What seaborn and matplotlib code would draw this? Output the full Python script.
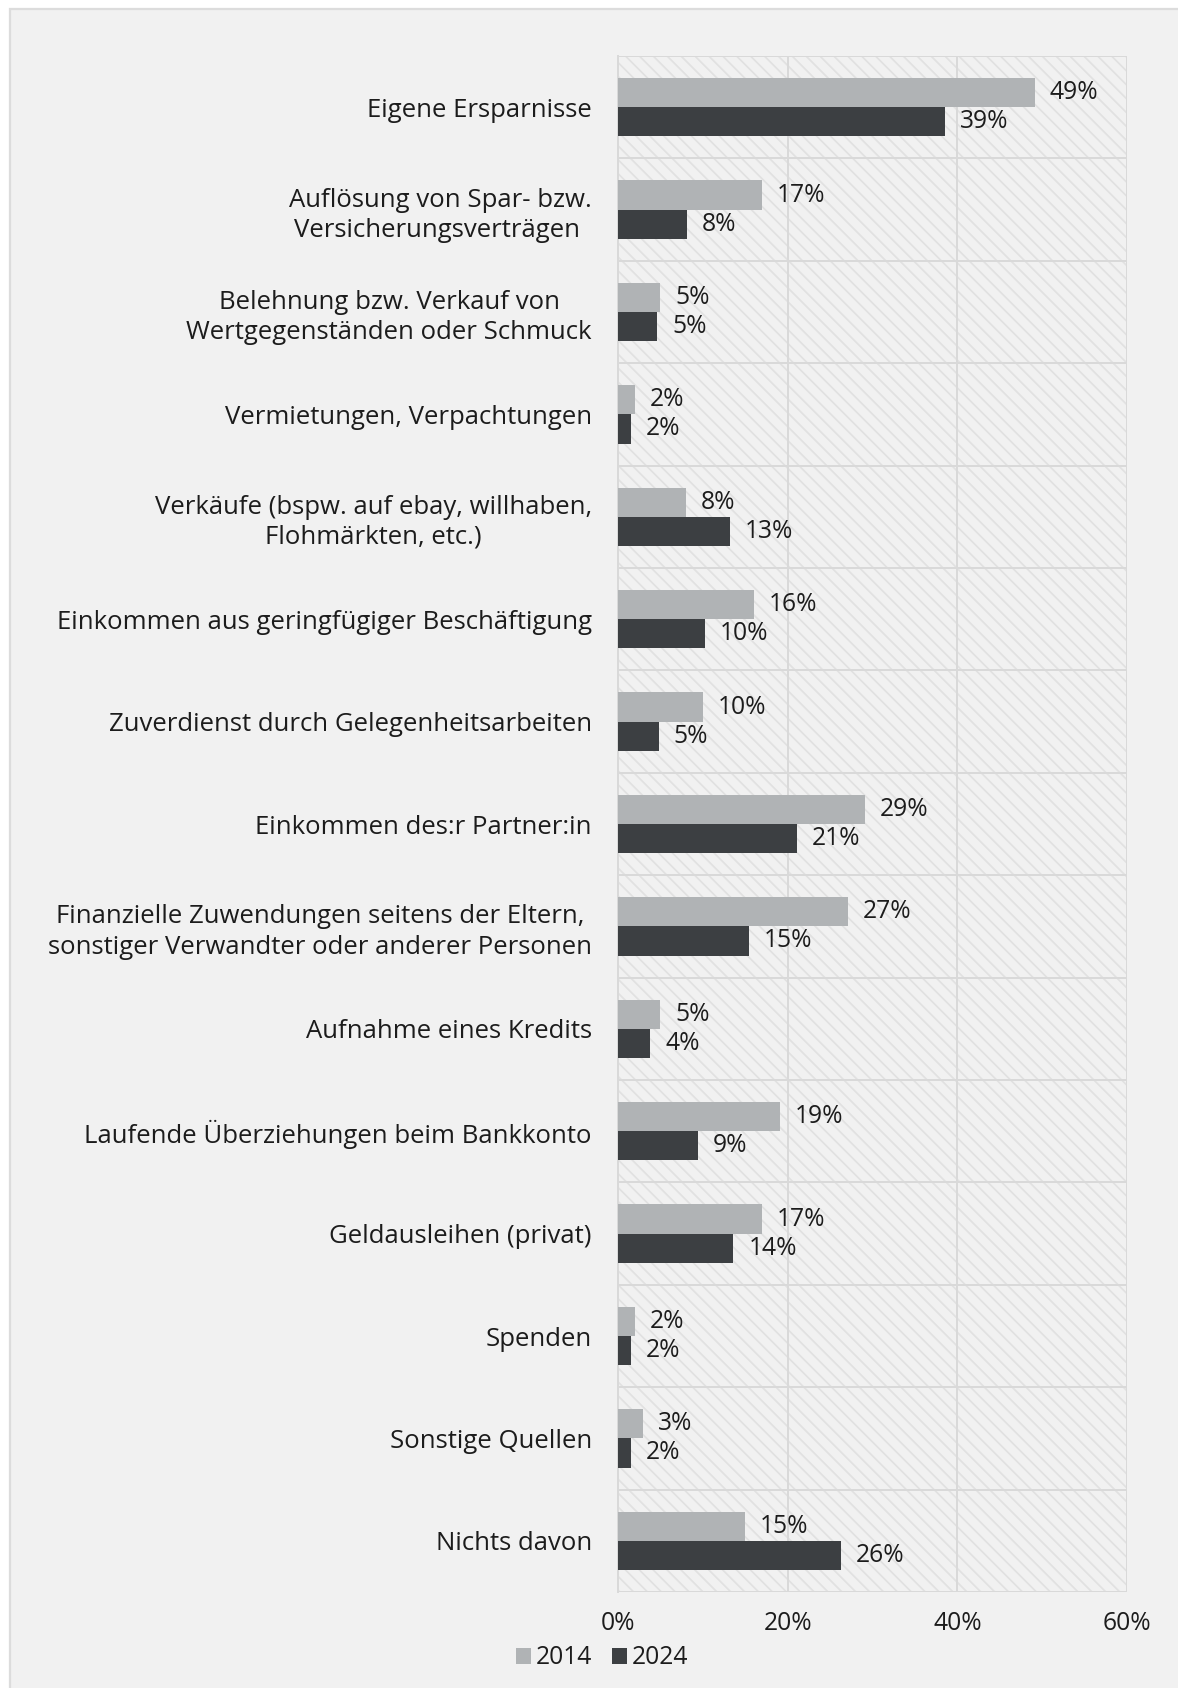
import matplotlib
matplotlib.use("Agg")
import matplotlib.pyplot as plt
from matplotlib.patches import Rectangle, Patch
import numpy as np
import pandas as pd
import seaborn as sns

# Sources of money used to bridge financial shortfalls, share of respondents
categories = [
    "Eigene Ersparnisse",
    "Auflösung von Spar- bzw.\nVersicherungsverträgen ",
    "Belehnung bzw. Verkauf von\nWertgegenständen oder Schmuck",
    "Vermietungen, Verpachtungen",
    "Verkäufe (bspw. auf ebay, willhaben,\nFlohmärkten, etc.)",
    "Einkommen aus geringfügiger Beschäftigung",
    "Zuverdienst durch Gelegenheitsarbeiten",
    "Einkommen des:r Partner:in",
    "Finanzielle Zuwendungen seitens der Eltern,\nsonstiger Verwandter oder anderer Personen",
    "Aufnahme eines Kredits",
    "Laufende Überziehungen beim Bankkonto",
    "Geldausleihen (privat)",
    "Spenden",
    "Sonstige Quellen",
    "Nichts davon",
]
values_2014 = [49.1, 17.0, 5.0, 2.0, 8.0, 16.0, 10.0, 29.1, 27.1, 5.0, 19.1, 17.0, 2.0, 3.0, 15.0]
values_2024 = [38.6, 8.1, 4.6, 1.5, 13.2, 10.2, 4.8, 21.1, 15.4, 3.8, 9.4, 13.6, 1.5, 1.5, 26.3]
years = ["2014", "2024"]
x_ticks = [0, 20, 40, 60]
x_tick_labels = ["0%", "20%", "40%", "60%"]

df = pd.DataFrame({
    "Quelle": categories * 2,
    "Jahr": [years[0]] * len(categories) + [years[1]] * len(categories),
    "Anteil": values_2014 + values_2024,
})

sns.set_style("white")
plt.rcParams["font.family"] = ["Open Sans", "DejaVu Sans"]
plt.rcParams["hatch.linewidth"] = 1.0

TEXT = "#1c1c1c"
GRID = "#d9d9d9"
BG = "#f1f1f1"
palette = {"2014": "#b0b3b5", "2024": "#3c3f42"}
FS_CAT = 14.8
FS_NUM = 14.2

W, H, DPI = 1178, 1688, 125
fig = plt.figure(figsize=(W / DPI, H / DPI), dpi=DPI, facecolor="white")

# framed panel behind the chart
fig.patches.append(Rectangle((9.5 / W, -0.01), 1.02, 1 - 8.5 / H + 0.01,
                             transform=fig.transFigure, facecolor=BG,
                             edgecolor="#dcdcdc", linewidth=1.3, zorder=-10))

ax = fig.add_axes([618 / W, 1 - 1592 / H, (1127 - 618) / W, (1592 - 56) / H])
ax.set_facecolor(BG)

# diagonal hatching inside the plot area
ax.add_patch(Rectangle((0, 0), 1, 1, transform=ax.transAxes, facecolor=BG,
                       edgecolor="#e1e1e1", hatch="\\\\\\", linewidth=0, zorder=0))

sns.barplot(data=df, y="Quelle", x="Anteil", hue="Jahr", hue_order=years,
            palette=palette, orient="h", width=0.57, dodge=True,
            saturation=1, linewidth=0, ax=ax, legend=False, zorder=3)

for cont in ax.containers:
    vals = cont.datavalues
    ax.bar_label(cont, labels=[f"{v:.0f}%" for v in vals], padding=8.6,
                 fontsize=FS_NUM, color=TEXT)

n = len(categories)
ax.set_xlim(0, 60)
ax.set_ylim(n - 0.5, -0.5)
ax.set_xticks(x_ticks)
ax.set_xticklabels(x_tick_labels)
ax.set_xlabel("")
ax.set_ylabel("")

# category separators
ax.set_yticks(np.arange(n + 1) - 0.5, minor=True)
ax.grid(True, which="minor", axis="y", color=GRID, linewidth=1.15, zorder=1)
ax.grid(True, which="major", axis="x", color=GRID, linewidth=1.15, zorder=1)
ax.grid(False, which="major", axis="y")
ax.set_axisbelow(True)

ax.tick_params(axis="y", which="major", length=0, pad=15, labelsize=FS_CAT, labelcolor=TEXT)
ax.tick_params(axis="y", which="minor", length=5.2, width=1.15, color=GRID)
ax.tick_params(axis="x", which="major", length=0, pad=11, labelsize=FS_NUM, labelcolor=TEXT)
for lbl in ax.get_yticklabels():
    lbl.set_multialignment("center")
    lbl.set_linespacing(1.27)

for side in ["top", "right", "bottom"]:
    ax.spines[side].set_visible(False)
ax.spines["left"].set_color(GRID)
ax.spines["left"].set_linewidth(1.15)

handles = [Patch(facecolor=palette[y], edgecolor="none") for y in years]
fig.legend(handles, years, loc="center", ncol=2, frameon=False,
           bbox_to_anchor=(602 / W, 1 - 1658 / H), fontsize=FS_NUM,
           handlelength=0.6, handleheight=0.6, handletextpad=0.2,
           columnspacing=0.8, labelcolor=TEXT)

fig.savefig("out.png", dpi=DPI, facecolor="white")
